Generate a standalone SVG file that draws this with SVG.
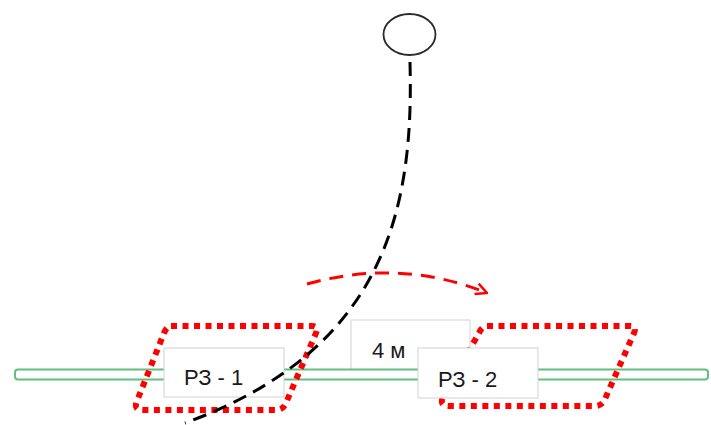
<svg xmlns="http://www.w3.org/2000/svg" width="711" height="425" viewBox="0 0 711 425">
<style>
.box{fill:#fff;stroke:#d2d2d2;stroke-width:1}
.lbl{font-family:"Liberation Sans",Arial,sans-serif;font-size:22px;fill:#1a1a1a}
.zone{fill:none;stroke:#ff0000;stroke-width:6;stroke-dasharray:6 5.5}
</style>
<defs>
<marker id="arr" viewBox="0 0 12 12" refX="11" refY="6" markerWidth="4.5" markerHeight="4.5" orient="auto" markerUnits="strokeWidth">
<path d="M1,1 L11,6 L1,11" fill="none" stroke="#ff0000" stroke-width="2.2"/>
</marker>
</defs>
<rect width="711" height="425" fill="#fff"/>
<g id="dist">
<rect class="box" x="351" y="320" width="119" height="56"/>
<text class="lbl" x="372" y="358">4 м</text>
</g>
<g id="bar">
<rect x="15" y="369.5" width="693" height="10" rx="3" fill="#fff" stroke="#62bf80" stroke-width="2"/>
</g>
<g id="zone1">
<path class="zone" d="M171,326 L312,326 Q319,326 316,333 L286,403 Q283,410 276,410 L143,410 Q133,410 137,401 L164,333 Q167,326 171,326 Z"/>
</g>
<g id="zone2">
<path class="zone" d="M487,326 L630,326 Q637,326 634,333 L605,399 Q602,406 595,406 L449,406 Q439,406 443,397 L479,333 Q482,326 487,326 Z"/>
</g>
<g id="rz1">
<rect class="box" x="164" y="348" width="120" height="49"/>
<text class="lbl" x="184" y="385">РЗ - 1</text>
</g>
<g id="rz2">
<rect class="box" x="418" y="348" width="120" height="50"/>
<text class="lbl" x="438" y="387">РЗ - 2</text>
</g>
<g id="ball">
<ellipse cx="409.5" cy="34.5" rx="26" ry="20.5" fill="#fff" stroke="#2a2a2a" stroke-width="1.8"/>
</g>
<g id="connectors">
<path d="M410,62 C414,210 385,350 185,423" fill="none" stroke="#000" stroke-width="3" stroke-dasharray="14 8"/>
<path d="M307,284 Q400,258 487,293" fill="none" stroke="#ff0000" stroke-width="3" stroke-dasharray="14 9" marker-end="url(#arr)"/>
</g>
</svg>
